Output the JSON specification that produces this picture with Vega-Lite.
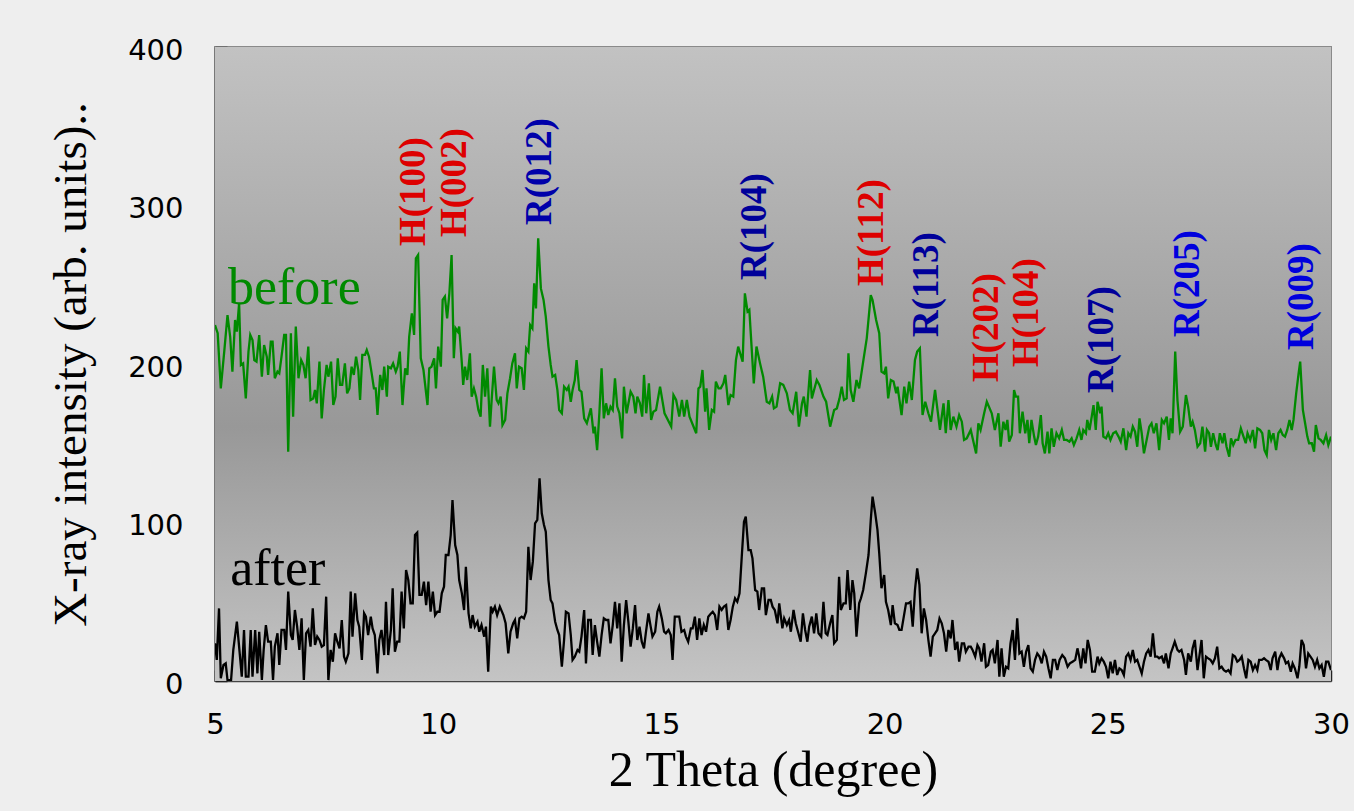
{
"$schema": "https://vega.github.io/schema/vega-lite/v6.json",
"width": 1116, "height": 634,
"autosize": "none",
"padding": {"left": 215, "top": 47, "right": 23, "bottom": 130},
"background": "#eeeeee",
"config": {"view": {"stroke": "#8a8a8a", "strokeWidth": 2}},
"datasets": {
"before": [
{"x":5.00,"y":224.6},{"x":5.06,"y":219.4},{"x":5.13,"y":184.6},{"x":5.21,"y":208.8},{"x":5.28,"y":230.9},{"x":5.34,"y":217.2},{"x":5.39,"y":195.2},{"x":5.45,"y":227.8},{"x":5.49,"y":220.4},{"x":5.54,"y":238.3},{"x":5.58,"y":199.4},{"x":5.63,"y":200.4},{"x":5.69,"y":178.3},{"x":5.75,"y":207.8},{"x":5.79,"y":218.3},{"x":5.84,"y":215.1},{"x":5.88,"y":202.5},{"x":5.93,"y":201.5},{"x":5.99,"y":218.3},{"x":6.05,"y":192.0},{"x":6.10,"y":212.0},{"x":6.16,"y":204.6},{"x":6.19,"y":193.1},{"x":6.25,"y":214.1},{"x":6.29,"y":214.1},{"x":6.34,"y":191.0},{"x":6.40,"y":195.2},{"x":6.44,"y":194.1},{"x":6.49,"y":204.6},{"x":6.55,"y":218.3},{"x":6.59,"y":218.3},{"x":6.64,"y":144.7},{"x":6.70,"y":219.4},{"x":6.75,"y":166.8},{"x":6.81,"y":223.6},{"x":6.87,"y":191.0},{"x":6.93,"y":202.5},{"x":6.98,"y":199.4},{"x":7.03,"y":191.0},{"x":7.09,"y":211.0},{"x":7.14,"y":177.3},{"x":7.20,"y":178.3},{"x":7.24,"y":183.6},{"x":7.28,"y":175.2},{"x":7.34,"y":201.5},{"x":7.39,"y":165.7},{"x":7.44,"y":183.6},{"x":7.50,"y":199.4},{"x":7.54,"y":192.0},{"x":7.60,"y":201.5},{"x":7.65,"y":174.1},{"x":7.70,"y":179.4},{"x":7.75,"y":203.6},{"x":7.80,"y":186.8},{"x":7.85,"y":186.8},{"x":7.91,"y":200.4},{"x":7.96,"y":181.5},{"x":8.01,"y":184.6},{"x":8.06,"y":198.3},{"x":8.11,"y":193.1},{"x":8.16,"y":204.6},{"x":8.21,"y":196.2},{"x":8.25,"y":177.3},{"x":8.30,"y":205.7},{"x":8.36,"y":205.7},{"x":8.40,"y":208.8},{"x":8.45,"y":204.6},{"x":8.51,"y":194.1},{"x":8.56,"y":184.6},{"x":8.60,"y":184.6},{"x":8.64,"y":167.8},{"x":8.70,"y":193.1},{"x":8.75,"y":183.6},{"x":8.79,"y":198.3},{"x":8.85,"y":179.4},{"x":8.88,"y":198.3},{"x":8.94,"y":197.3},{"x":8.99,"y":200.4},{"x":9.05,"y":195.2},{"x":9.09,"y":198.3},{"x":9.14,"y":207.8},{"x":9.20,"y":174.1},{"x":9.26,"y":197.3},{"x":9.31,"y":193.1},{"x":9.35,"y":217.2},{"x":9.41,"y":231.9},{"x":9.46,"y":218.3},{"x":9.50,"y":266.7},{"x":9.55,"y":268.8},{"x":9.61,"y":203.6},{"x":9.67,"y":196.2},{"x":9.76,"y":174.1},{"x":9.80,"y":197.3},{"x":9.85,"y":198.3},{"x":9.91,"y":203.6},{"x":9.95,"y":184.6},{"x":10.00,"y":211.0},{"x":10.06,"y":198.3},{"x":10.10,"y":240.4},{"x":10.15,"y":242.5},{"x":10.20,"y":228.8},{"x":10.25,"y":244.6},{"x":10.30,"y":268.8},{"x":10.35,"y":203.6},{"x":10.39,"y":222.5},{"x":10.44,"y":220.4},{"x":10.47,"y":223.6},{"x":10.53,"y":200.4},{"x":10.56,"y":186.8},{"x":10.60,"y":198.3},{"x":10.65,"y":189.9},{"x":10.71,"y":206.7},{"x":10.75,"y":179.4},{"x":10.80,"y":184.6},{"x":10.85,"y":179.4},{"x":10.90,"y":171.0},{"x":10.95,"y":166.8},{"x":11.00,"y":199.4},{"x":11.05,"y":179.4},{"x":11.10,"y":197.3},{"x":11.16,"y":160.5},{"x":11.20,"y":178.3},{"x":11.25,"y":198.3},{"x":11.31,"y":177.3},{"x":11.35,"y":175.2},{"x":11.40,"y":179.4},{"x":11.44,"y":161.5},{"x":11.50,"y":164.7},{"x":11.55,"y":181.5},{"x":11.61,"y":191.0},{"x":11.66,"y":200.4},{"x":11.72,"y":206.7},{"x":11.76,"y":184.6},{"x":11.81,"y":198.3},{"x":11.87,"y":197.3},{"x":11.92,"y":183.6},{"x":11.97,"y":209.9},{"x":12.02,"y":207.8},{"x":12.06,"y":224.6},{"x":12.11,"y":222.5},{"x":12.15,"y":250.9},{"x":12.19,"y":235.1},{"x":12.24,"y":279.3},{"x":12.30,"y":247.7},{"x":12.36,"y":240.4},{"x":12.41,"y":229.9},{"x":12.47,"y":211.0},{"x":12.52,"y":199.4},{"x":12.56,"y":192.0},{"x":12.62,"y":193.1},{"x":12.67,"y":183.6},{"x":12.71,"y":171.0},{"x":12.77,"y":168.9},{"x":12.82,"y":185.7},{"x":12.88,"y":183.6},{"x":12.92,"y":185.7},{"x":12.97,"y":176.2},{"x":13.01,"y":183.6},{"x":13.06,"y":189.9},{"x":13.10,"y":202.5},{"x":13.16,"y":183.6},{"x":13.21,"y":182.5},{"x":13.27,"y":165.7},{"x":13.33,"y":162.6},{"x":13.38,"y":167.8},{"x":13.42,"y":172.0},{"x":13.48,"y":156.3},{"x":13.51,"y":160.5},{"x":13.56,"y":145.7},{"x":13.61,"y":168.9},{"x":13.66,"y":197.3},{"x":13.71,"y":165.7},{"x":13.76,"y":175.2},{"x":13.81,"y":167.8},{"x":13.86,"y":173.1},{"x":13.91,"y":171.0},{"x":13.96,"y":191.0},
{"x":14.01,"y":173.1},{"x":14.06,"y":168.9},{"x":14.12,"y":153.1},{"x":14.16,"y":185.7},{"x":14.22,"y":168.9},{"x":14.31,"y":182.5},{"x":14.37,"y":179.4},{"x":14.42,"y":168.9},{"x":14.46,"y":179.4},{"x":14.52,"y":175.2},{"x":14.57,"y":166.8},{"x":14.61,"y":193.1},{"x":14.66,"y":168.9},{"x":14.72,"y":187.8},{"x":14.77,"y":164.7},{"x":14.82,"y":169.9},{"x":14.88,"y":171.0},{"x":14.97,"y":185.7},{"x":15.07,"y":168.9},{"x":15.22,"y":160.5},{"x":15.27,"y":180.4},{"x":15.33,"y":177.3},{"x":15.40,"y":166.8},{"x":15.46,"y":177.3},{"x":15.51,"y":166.8},{"x":15.57,"y":177.3},{"x":15.63,"y":166.8},{"x":15.78,"y":156.3},{"x":15.83,"y":184.6},{"x":15.87,"y":185.7},{"x":15.92,"y":196.2},{"x":15.98,"y":169.9},{"x":16.01,"y":184.6},{"x":16.07,"y":158.4},{"x":16.13,"y":171.0},{"x":16.18,"y":169.9},{"x":16.22,"y":188.9},{"x":16.28,"y":184.6},{"x":16.33,"y":184.6},{"x":16.39,"y":187.8},{"x":16.43,"y":193.1},{"x":16.50,"y":174.1},{"x":16.55,"y":180.4},{"x":16.61,"y":179.4},{"x":16.67,"y":202.5},{"x":16.72,"y":211.0},{"x":16.82,"y":201.5},{"x":16.87,"y":244.6},{"x":16.93,"y":233.0},{"x":16.97,"y":234.1},{"x":17.07,"y":187.8},{"x":17.13,"y":211.0},{"x":17.21,"y":200.4},{"x":17.28,"y":192.0},{"x":17.36,"y":176.2},{"x":17.42,"y":175.2},{"x":17.48,"y":179.4},{"x":17.52,"y":172.0},{"x":17.58,"y":173.1},{"x":17.66,"y":187.8},{"x":17.73,"y":186.8},{"x":17.81,"y":181.5},{"x":17.88,"y":171.0},{"x":17.94,"y":168.9},{"x":18.02,"y":182.5},{"x":18.08,"y":160.5},{"x":18.15,"y":175.2},{"x":18.19,"y":179.4},{"x":18.25,"y":166.8},{"x":18.33,"y":196.2},{"x":18.37,"y":178.3},{"x":18.48,"y":189.9},{"x":18.54,"y":186.8},{"x":18.63,"y":179.4},{"x":18.69,"y":176.2},{"x":18.78,"y":160.5},{"x":18.87,"y":171.0},{"x":18.93,"y":172.0},{"x":18.99,"y":178.3},{"x":19.04,"y":185.7},{"x":19.09,"y":177.3},{"x":19.15,"y":178.3},{"x":19.19,"y":206.7},{"x":19.24,"y":183.6},{"x":19.30,"y":176.2},{"x":19.37,"y":189.9},{"x":19.43,"y":184.6},{"x":19.52,"y":201.5},{"x":19.60,"y":216.2},{"x":19.69,"y":243.5},{"x":19.73,"y":240.4},{"x":19.81,"y":227.8},{"x":19.88,"y":219.4},{"x":19.93,"y":195.2},{"x":19.99,"y":194.1},{"x":20.03,"y":198.3},{"x":20.08,"y":178.3},{"x":20.14,"y":189.9},{"x":20.20,"y":188.9},{"x":20.26,"y":181.5},{"x":20.29,"y":185.7},{"x":20.38,"y":167.8},{"x":20.44,"y":185.7},{"x":20.49,"y":175.2},{"x":20.55,"y":188.9},{"x":20.61,"y":177.3},{"x":20.68,"y":202.5},{"x":20.73,"y":207.8},{"x":20.79,"y":209.9},{"x":20.85,"y":167.8},{"x":20.91,"y":176.2},{"x":20.98,"y":168.9},{"x":21.04,"y":163.6},{"x":21.13,"y":183.6},{"x":21.24,"y":158.4},{"x":21.32,"y":175.2},{"x":21.37,"y":156.3},{"x":21.43,"y":177.3},{"x":21.48,"y":158.4},{"x":21.54,"y":166.8},{"x":21.61,"y":160.5},{"x":21.67,"y":167.8},{"x":21.73,"y":163.6},{"x":21.78,"y":152.1},{"x":21.84,"y":153.1},{"x":21.93,"y":158.4},{"x":22.05,"y":143.6},{"x":22.10,"y":162.6},{"x":22.15,"y":158.4},{"x":22.23,"y":168.9},{"x":22.29,"y":176.2},{"x":22.40,"y":168.9},{"x":22.47,"y":158.4},{"x":22.55,"y":168.9},{"x":22.60,"y":147.8},
{"x":22.66,"y":163.6},{"x":22.71,"y":158.4},{"x":22.75,"y":164.7},{"x":22.79,"y":151.0},{"x":22.85,"y":155.2},{"x":22.90,"y":183.6},{"x":22.94,"y":179.4},{"x":22.99,"y":179.4},{"x":23.03,"y":156.3},{"x":23.09,"y":169.9},{"x":23.15,"y":156.3},{"x":23.20,"y":164.7},{"x":23.24,"y":150.0},{"x":23.29,"y":164.7},{"x":23.35,"y":154.2},{"x":23.39,"y":148.9},{"x":23.44,"y":154.2},{"x":23.50,"y":167.8},{"x":23.54,"y":150.0},{"x":23.59,"y":143.6},{"x":23.65,"y":157.3},{"x":23.69,"y":143.6},{"x":23.74,"y":159.4},{"x":23.79,"y":147.8},{"x":23.85,"y":156.3},{"x":23.91,"y":153.1},{"x":23.97,"y":158.4},{"x":24.02,"y":152.1},{"x":24.08,"y":152.1},{"x":24.14,"y":151.0},{"x":24.19,"y":153.1},{"x":24.24,"y":148.9},{"x":24.30,"y":153.1},{"x":24.36,"y":158.4},{"x":24.41,"y":152.1},{"x":24.45,"y":158.4},{"x":24.51,"y":156.3},{"x":24.54,"y":164.7},{"x":24.59,"y":158.4},{"x":24.64,"y":166.8},{"x":24.68,"y":174.1},{"x":24.73,"y":158.4},{"x":24.77,"y":176.2},{"x":24.83,"y":168.9},{"x":24.86,"y":173.1},{"x":24.90,"y":154.2},{"x":24.96,"y":153.1},{"x":25.01,"y":156.3},{"x":25.06,"y":152.1},{"x":25.12,"y":156.3},{"x":25.18,"y":157.3},{"x":25.24,"y":154.2},{"x":25.29,"y":151.0},{"x":25.35,"y":159.4},{"x":25.41,"y":145.7},{"x":25.46,"y":156.3},{"x":25.51,"y":154.2},{"x":25.56,"y":160.5},{"x":25.61,"y":157.3},{"x":25.66,"y":147.8},{"x":25.71,"y":165.7},{"x":25.76,"y":156.3},{"x":25.81,"y":143.6},{"x":25.87,"y":152.1},{"x":25.93,"y":160.5},{"x":25.98,"y":162.6},{"x":26.03,"y":156.3},{"x":26.09,"y":162.6},{"x":26.15,"y":145.7},{"x":26.21,"y":164.7},{"x":26.26,"y":162.6},{"x":26.32,"y":166.8},{"x":26.37,"y":152.1},{"x":26.41,"y":165.7},{"x":26.45,"y":156.3},{"x":26.51,"y":207.8},{"x":26.56,"y":177.3},{"x":26.62,"y":157.3},{"x":26.68,"y":160.5},{"x":26.75,"y":180.4},{"x":26.80,"y":173.1},{"x":26.86,"y":160.5},{"x":26.90,"y":163.6},{"x":26.95,"y":158.4},{"x":27.01,"y":147.8},{"x":27.07,"y":150.0},{"x":27.12,"y":160.5},{"x":27.18,"y":144.7},{"x":27.22,"y":158.4},{"x":27.27,"y":156.3},{"x":27.31,"y":147.8},{"x":27.36,"y":156.3},{"x":27.42,"y":148.9},{"x":27.46,"y":145.7},{"x":27.51,"y":156.3},{"x":27.57,"y":150.0},{"x":27.61,"y":156.3},{"x":27.66,"y":147.8},{"x":27.72,"y":141.5},{"x":27.76,"y":153.1},{"x":27.81,"y":148.9},{"x":27.86,"y":152.1},{"x":27.92,"y":152.1},{"x":27.98,"y":159.4},{"x":28.04,"y":154.2},{"x":28.09,"y":150.0},{"x":28.13,"y":156.3},{"x":28.19,"y":152.1},{"x":28.25,"y":158.4},{"x":28.30,"y":146.8},{"x":28.35,"y":159.4},{"x":28.41,"y":158.4},{"x":28.46,"y":156.3},{"x":28.51,"y":145.7},{"x":28.56,"y":142.6},{"x":28.61,"y":158.4},{"x":28.66,"y":152.1},{"x":28.71,"y":156.3},{"x":28.77,"y":145.7},{"x":28.82,"y":156.3},{"x":28.87,"y":158.4},{"x":28.92,"y":155.2},{"x":28.97,"y":154.2},{"x":29.02,"y":158.4},{"x":29.07,"y":164.7},{"x":29.12,"y":158.4},{"x":29.16,"y":164.7},{"x":29.22,"y":181.5},{"x":29.27,"y":193.1},{"x":29.31,"y":201.5},{"x":29.37,"y":171.0},{"x":29.42,"y":162.6},{"x":29.47,"y":154.2},{"x":29.51,"y":150.0},{"x":29.57,"y":150.0},{"x":29.62,"y":144.7},{"x":29.66,"y":161.5},{"x":29.72,"y":153.1},{"x":29.77,"y":152.1},{"x":29.83,"y":150.0},{"x":29.89,"y":155.2},{"x":29.94,"y":148.9},{"x":30.00,"y":154.2}
],
"after": [
{"x":5.00,"y":23.8},{"x":5.04,"y":13.3},{"x":5.09,"y":45.8},{"x":5.13,"y":1.7},{"x":5.19,"y":10.1},{"x":5.24,"y":11.1},{"x":5.28,"y":0.6},{"x":5.36,"y":0.6},{"x":5.41,"y":19.6},{"x":5.49,"y":37.4},{"x":5.54,"y":21.7},{"x":5.60,"y":2.7},{"x":5.65,"y":32.2},{"x":5.69,"y":2.7},{"x":5.75,"y":2.7},{"x":5.80,"y":32.2},{"x":5.84,"y":2.7},{"x":5.90,"y":32.2},{"x":5.95,"y":4.8},{"x":5.99,"y":31.1},{"x":6.05,"y":0.6},{"x":6.09,"y":19.6},{"x":6.14,"y":35.3},{"x":6.19,"y":24.8},{"x":6.25,"y":24.8},{"x":6.30,"y":0.6},{"x":6.34,"y":21.7},{"x":6.40,"y":30.1},{"x":6.44,"y":10.1},{"x":6.49,"y":32.2},{"x":6.55,"y":32.2},{"x":6.59,"y":19.6},{"x":6.64,"y":56.4},{"x":6.70,"y":29.0},{"x":6.74,"y":25.9},{"x":6.79,"y":44.8},{"x":6.84,"y":34.3},{"x":6.89,"y":19.6},{"x":6.94,"y":39.5},{"x":6.99,"y":0.6},{"x":7.04,"y":30.1},{"x":7.09,"y":32.2},{"x":7.14,"y":21.7},{"x":7.19,"y":45.8},{"x":7.24,"y":22.7},{"x":7.29,"y":28.0},{"x":7.34,"y":25.9},{"x":7.39,"y":21.7},{"x":7.44,"y":22.7},{"x":7.49,"y":53.2},{"x":7.54,"y":0.6},{"x":7.59,"y":19.6},{"x":7.64,"y":12.2},{"x":7.69,"y":30.1},{"x":7.74,"y":24.8},{"x":7.79,"y":20.6},{"x":7.84,"y":38.5},{"x":7.89,"y":15.4},{"x":7.93,"y":12.2},{"x":7.99,"y":17.4},{"x":8.04,"y":56.4},{"x":8.08,"y":28.0},{"x":8.14,"y":55.3},{"x":8.19,"y":38.5},{"x":8.23,"y":34.3},{"x":8.29,"y":13.3},{"x":8.34,"y":42.7},{"x":8.38,"y":40.6},{"x":8.43,"y":29.0},{"x":8.49,"y":40.6},{"x":8.53,"y":33.2},{"x":8.58,"y":29.0},{"x":8.64,"y":4.8},{"x":8.68,"y":25.9},{"x":8.73,"y":32.2},{"x":8.79,"y":16.4},{"x":8.83,"y":50.0},{"x":8.88,"y":16.4},{"x":8.94,"y":32.2},{"x":8.98,"y":58.5},{"x":9.03,"y":18.5},{"x":9.08,"y":24.8},{"x":9.13,"y":24.8},{"x":9.18,"y":56.4},{"x":9.23,"y":33.2},{"x":9.28,"y":70.0},{"x":9.33,"y":63.7},{"x":9.38,"y":49.0},{"x":9.43,"y":49.0},{"x":9.48,"y":92.1},{"x":9.53,"y":93.6},{"x":9.58,"y":54.3},{"x":9.63,"y":54.3},{"x":9.68,"y":62.7},{"x":9.73,"y":47.9},{"x":9.78,"y":62.7},{"x":9.83,"y":43.7},{"x":9.88,"y":56.4},{"x":9.93,"y":41.6},{"x":9.98,"y":43.7},{"x":10.03,"y":43.7},{"x":10.08,"y":55.3},{"x":10.13,"y":59.5},{"x":10.17,"y":79.5},{"x":10.23,"y":79.5},{"x":10.28,"y":92.1},{"x":10.32,"y":114.2},{"x":10.38,"y":85.8},{"x":10.43,"y":79.5},{"x":10.47,"y":63.7},{"x":10.53,"y":55.3},{"x":10.58,"y":44.8},{"x":10.62,"y":72.1},{"x":10.68,"y":42.7},{"x":10.73,"y":33.2},{"x":10.77,"y":41.6},{"x":10.82,"y":34.3},{"x":10.88,"y":37.4},{"x":10.92,"y":31.1},{"x":10.97,"y":35.3},{"x":11.03,"y":28.0},{"x":11.07,"y":34.3},{"x":11.12,"y":5.9},{"x":11.18,"y":46.9},{"x":11.22,"y":43.7},{"x":11.27,"y":46.9},{"x":11.32,"y":41.6},{"x":11.38,"y":46.9},
{"x":11.46,"y":41.6},{"x":11.51,"y":36.4},{"x":11.57,"y":17.4},{"x":11.62,"y":31.1},{"x":11.68,"y":36.4},{"x":11.72,"y":38.5},{"x":11.77,"y":26.9},{"x":11.82,"y":39.5},{"x":11.87,"y":40.6},{"x":11.92,"y":39.5},{"x":11.97,"y":43.7},{"x":12.02,"y":84.7},{"x":12.07,"y":63.7},{"x":12.12,"y":75.3},{"x":12.17,"y":99.5},{"x":12.22,"y":101.6},{"x":12.27,"y":127.9},{"x":12.32,"y":105.8},{"x":12.37,"y":98.4},{"x":12.41,"y":94.2},{"x":12.47,"y":63.7},{"x":12.52,"y":51.1},{"x":12.56,"y":49.0},{"x":12.62,"y":37.4},{"x":12.67,"y":32.2},{"x":12.71,"y":29.0},{"x":12.77,"y":9.0},{"x":12.82,"y":25.9},{"x":12.86,"y":43.7},{"x":12.92,"y":42.7},{"x":12.97,"y":29.0},{"x":13.01,"y":13.3},{"x":13.06,"y":15.4},{"x":13.12,"y":19.6},{"x":13.16,"y":18.5},{"x":13.21,"y":28.0},{"x":13.27,"y":44.8},{"x":13.31,"y":11.1},{"x":13.36,"y":38.5},{"x":13.42,"y":38.5},{"x":13.46,"y":16.4},{"x":13.51,"y":35.3},{"x":13.56,"y":24.8},{"x":13.61,"y":15.4},{"x":13.66,"y":29.0},{"x":13.71,"y":39.5},{"x":13.76,"y":38.5},{"x":13.81,"y":38.5},{"x":13.86,"y":23.8},{"x":13.91,"y":35.3},{"x":13.96,"y":50.0},{"x":14.01,"y":33.2},{"x":14.06,"y":49.0},{"x":14.11,"y":12.2},{"x":14.16,"y":35.3},{"x":14.21,"y":51.1},{"x":14.26,"y":37.4},{"x":14.31,"y":21.7},{"x":14.36,"y":33.2},{"x":14.41,"y":47.9},{"x":14.46,"y":25.9},{"x":14.51,"y":34.3},{"x":14.56,"y":24.8},{"x":14.61,"y":20.6},{"x":14.65,"y":30.1},{"x":14.71,"y":42.7},{"x":14.76,"y":34.3},{"x":14.80,"y":28.0},{"x":14.86,"y":31.1},{"x":14.91,"y":43.7},{"x":14.95,"y":46.9},{"x":15.01,"y":39.5},{"x":15.06,"y":31.1},{"x":15.10,"y":30.1},{"x":15.16,"y":32.2},{"x":15.21,"y":29.0},{"x":15.25,"y":13.3},{"x":15.30,"y":40.6},{"x":15.36,"y":40.6},{"x":15.40,"y":40.6},{"x":15.45,"y":31.1},{"x":15.51,"y":32.2},{"x":15.55,"y":28.0},{"x":15.60,"y":24.8},{"x":15.66,"y":33.2},{"x":15.70,"y":33.2},{"x":15.75,"y":40.6},{"x":15.80,"y":25.9},{"x":15.85,"y":39.5},{"x":15.90,"y":29.0},{"x":15.95,"y":35.3},{"x":16.00,"y":31.1},{"x":16.05,"y":40.6},{"x":16.10,"y":42.3},{"x":16.15,"y":43.7},{"x":16.20,"y":41.6},{"x":16.25,"y":32.2},{"x":16.30,"y":46.9},{"x":16.35,"y":44.8},{"x":16.40,"y":46.9},{"x":16.45,"y":47.9},{"x":16.50,"y":32.2},{"x":16.55,"y":38.5},{"x":16.60,"y":46.9},{"x":16.65,"y":52.2},{"x":16.70,"y":50.0},{"x":16.75,"y":55.3},{"x":16.80,"y":78.4},{"x":16.85,"y":100.5},{"x":16.89,"y":103.7},{"x":16.95,"y":82.6},{"x":17.00,"y":82.6},{"x":17.04,"y":77.4},{"x":17.10,"y":57.4},{"x":17.15,"y":56.4},{"x":17.19,"y":44.8},{"x":17.25,"y":58.5},{"x":17.30,"y":58.5},{"x":17.34,"y":41.6},{"x":17.40,"y":51.1},{"x":17.45,"y":51.1},{"x":17.49,"y":46.9},{"x":17.54,"y":44.8},{"x":17.60,"y":36.4},{"x":17.64,"y":49.0},
{"x":17.71,"y":33.2},{"x":17.75,"y":39.5},{"x":17.81,"y":35.3},{"x":17.86,"y":38.5},{"x":17.90,"y":31.1},{"x":17.96,"y":44.8},{"x":18.01,"y":36.4},{"x":18.07,"y":30.1},{"x":18.12,"y":24.8},{"x":18.17,"y":42.7},{"x":18.22,"y":32.2},{"x":18.27,"y":24.8},{"x":18.31,"y":34.3},{"x":18.37,"y":40.6},{"x":18.42,"y":30.1},{"x":18.47,"y":42.7},{"x":18.52,"y":30.1},{"x":18.58,"y":28.0},{"x":18.63,"y":50.0},{"x":18.68,"y":30.1},{"x":18.72,"y":29.0},{"x":18.78,"y":36.4},{"x":18.83,"y":41.6},{"x":18.87,"y":23.8},{"x":18.93,"y":25.9},{"x":18.98,"y":65.8},{"x":19.02,"y":44.8},{"x":19.08,"y":49.0},{"x":19.13,"y":49.0},{"x":19.17,"y":70.0},{"x":19.23,"y":44.8},{"x":19.28,"y":63.7},{"x":19.32,"y":55.3},{"x":19.37,"y":28.0},{"x":19.43,"y":49.0},{"x":19.47,"y":52.2},{"x":19.52,"y":57.4},{"x":19.58,"y":67.9},{"x":19.64,"y":79.5},{"x":19.69,"y":101.6},{"x":19.73,"y":116.3},{"x":19.79,"y":105.8},{"x":19.84,"y":95.3},{"x":19.88,"y":80.5},{"x":19.93,"y":58.5},{"x":19.99,"y":66.9},{"x":20.03,"y":50.0},{"x":20.08,"y":44.8},{"x":20.14,"y":35.3},{"x":20.18,"y":47.9},{"x":20.23,"y":36.4},{"x":20.29,"y":35.3},{"x":20.33,"y":32.2},{"x":20.38,"y":32.2},{"x":20.43,"y":40.6},{"x":20.48,"y":49.0},{"x":20.53,"y":49.0},{"x":20.58,"y":50.0},{"x":20.63,"y":34.3},{"x":20.68,"y":57.4},{"x":20.73,"y":71.1},{"x":20.78,"y":60.6},{"x":20.83,"y":30.1},{"x":20.88,"y":45.8},{"x":20.93,"y":38.5},{"x":20.98,"y":25.9},{"x":21.03,"y":15.4},{"x":21.08,"y":28.0},{"x":21.13,"y":30.1},{"x":21.18,"y":32.2},{"x":21.23,"y":39.5},{"x":21.28,"y":36.4},{"x":21.33,"y":30.1},{"x":21.38,"y":18.5},{"x":21.43,"y":32.2},{"x":21.48,"y":26.9},{"x":21.52,"y":38.5},{"x":21.58,"y":19.6},{"x":21.63,"y":24.8},{"x":21.67,"y":12.2},{"x":21.73,"y":23.8},{"x":21.78,"y":23.8},{"x":21.82,"y":18.5},{"x":21.88,"y":21.7},{"x":21.93,"y":21.7},{"x":21.97,"y":19.6},{"x":22.03,"y":15.4},{"x":22.08,"y":22.7},{"x":22.12,"y":20.6},{"x":22.17,"y":12.2},{"x":22.23,"y":23.8},{"x":22.27,"y":9.0},{"x":22.32,"y":10.1},{"x":22.38,"y":18.5},{"x":22.42,"y":19.6},{"x":22.47,"y":11.1},{"x":22.53,"y":25.9},{"x":22.57,"y":2.7},{"x":22.62,"y":20.6},{"x":22.67,"y":2.7},{"x":22.72,"y":9.0},{"x":22.77,"y":8.0},{"x":22.82,"y":23.8},{"x":22.87,"y":32.2},{"x":22.92,"y":13.3},{"x":22.97,"y":39.5},{"x":23.02,"y":17.4},{"x":23.07,"y":18.5},{"x":23.12,"y":9.0},{"x":23.17,"y":18.5},{"x":23.22,"y":22.7},{"x":23.27,"y":8.0},{"x":23.32,"y":5.9},{"x":23.37,"y":13.3},{"x":23.42,"y":17.4},{"x":23.47,"y":15.4},{"x":23.52,"y":11.1},{"x":23.57,"y":18.5},{"x":23.62,"y":15.4},{"x":23.67,"y":8.0},{"x":23.72,"y":1.7},{"x":23.77,"y":13.3},{"x":23.82,"y":13.3},{"x":23.87,"y":6.9},{"x":23.92,"y":13.3},
{"x":23.98,"y":16.4},{"x":24.04,"y":14.3},{"x":24.10,"y":9.0},{"x":24.15,"y":11.1},{"x":24.21,"y":12.2},{"x":24.27,"y":13.3},{"x":24.32,"y":20.6},{"x":24.36,"y":15.4},{"x":24.40,"y":8.0},{"x":24.45,"y":20.6},{"x":24.50,"y":11.1},{"x":24.55,"y":25.9},{"x":24.60,"y":19.6},{"x":24.65,"y":5.9},{"x":24.71,"y":5.9},{"x":24.77,"y":15.4},{"x":24.81,"y":11.1},{"x":24.86,"y":14.3},{"x":24.91,"y":12.2},{"x":24.96,"y":9.0},{"x":25.01,"y":1.7},{"x":25.06,"y":12.2},{"x":25.11,"y":4.8},{"x":25.16,"y":13.3},{"x":25.21,"y":3.8},{"x":25.26,"y":8.0},{"x":25.31,"y":6.9},{"x":25.36,"y":3.8},{"x":25.41,"y":15.4},{"x":25.46,"y":17.4},{"x":25.51,"y":13.3},{"x":25.56,"y":19.6},{"x":25.61,"y":12.2},{"x":25.66,"y":13.3},{"x":25.71,"y":9.0},{"x":25.76,"y":4.8},{"x":25.81,"y":12.2},{"x":25.86,"y":17.4},{"x":25.91,"y":19.6},{"x":25.96,"y":15.4},{"x":26.01,"y":30.1},{"x":26.06,"y":15.4},{"x":26.11,"y":15.4},{"x":26.15,"y":14.3},{"x":26.21,"y":15.4},{"x":26.26,"y":11.1},{"x":26.30,"y":17.4},{"x":26.36,"y":8.0},{"x":26.41,"y":17.4},{"x":26.45,"y":20.6},{"x":26.50,"y":24.8},{"x":26.56,"y":19.6},{"x":26.60,"y":18.5},{"x":26.65,"y":19.6},{"x":26.71,"y":13.3},{"x":26.75,"y":3.8},{"x":26.80,"y":17.4},{"x":26.86,"y":12.2},{"x":26.90,"y":20.6},{"x":26.95,"y":25.9},{"x":27.01,"y":6.9},{"x":27.05,"y":15.4},{"x":27.10,"y":25.9},{"x":27.15,"y":1.7},{"x":27.20,"y":15.4},{"x":27.25,"y":14.3},{"x":27.30,"y":13.3},{"x":27.35,"y":11.1},{"x":27.40,"y":14.3},{"x":27.45,"y":21.7},{"x":27.50,"y":8.0},{"x":27.55,"y":9.0},{"x":27.60,"y":6.9},{"x":27.65,"y":5.9},{"x":27.70,"y":6.9},{"x":27.75,"y":4.8},{"x":27.80,"y":16.4},{"x":27.85,"y":15.4},{"x":27.90,"y":12.2},{"x":27.95,"y":13.3},{"x":28.00,"y":15.4},{"x":28.05,"y":8.0},{"x":28.10,"y":1.7},{"x":28.15,"y":13.3},{"x":28.20,"y":12.2},{"x":28.25,"y":6.9},{"x":28.30,"y":10.1},{"x":28.35,"y":6.9},{"x":28.39,"y":13.3},{"x":28.45,"y":13.3},{"x":28.50,"y":14.3},{"x":28.54,"y":13.3},{"x":28.60,"y":12.2},{"x":28.65,"y":6.9},{"x":28.69,"y":14.3},{"x":28.75,"y":18.5},{"x":28.80,"y":6.9},{"x":28.84,"y":14.3},{"x":28.89,"y":17.4},{"x":28.95,"y":14.3},{"x":28.99,"y":11.1},{"x":29.04,"y":12.2},{"x":29.10,"y":5.9},{"x":29.14,"y":11.1},{"x":29.19,"y":8.0},{"x":29.25,"y":1.7},{"x":29.29,"y":9.0},{"x":29.34,"y":25.9},{"x":29.39,"y":22.7},{"x":29.44,"y":8.0},{"x":29.49,"y":17.4},{"x":29.54,"y":15.4},{"x":29.59,"y":13.3},{"x":29.64,"y":9.0},{"x":29.69,"y":13.3},{"x":29.74,"y":8.0},{"x":29.79,"y":10.1},{"x":29.84,"y":2.7},{"x":29.89,"y":12.2},{"x":29.94,"y":12.2},{"x":30.00,"y":6.9}
],
"peaks": [
{"label":"H(100)","x":9.46,"y":274.4},{"label":"H(002)","x":10.38,"y":280.1},{"label":"R(012)","x":12.28,"y":287.7},{"label":"R(104)","x":17.10,"y":253.0},{"label":"H(112)","x":19.72,"y":249.2},{"label":"R(113)","x":20.95,"y":217.0},{"label":"H(202)","x":22.29,"y":188.6},{"label":"H(104)","x":23.19,"y":198.1},{"label":"R(107)","x":24.87,"y":181.7},{"label":"R(205)","x":26.80,"y":217.0},{"label":"R(009)","x":29.35,"y":208.8}
]
},
"layer": [
{"data": {"values": [{}]}, "mark": {"type": "rect", "fill": {"gradient": "linear", "x1": 0, "y1": 0, "x2": 0, "y2": 1, "stops": [{"offset": 0, "color": "#c2c2c2"}, {"offset": 0.6, "color": "#989898"}, {"offset": 1, "color": "#c4c4c4"}]}}, "encoding": {}},
{"data": {"name": "before"}, "mark": {"type": "line", "color": "#008a00", "strokeWidth": 2.3, "clip": true},
 "encoding": {
  "x": {"field": "x", "type": "quantitative", "scale": {"domain": [5, 30], "nice": false},
   "axis": {"values": [5, 10, 15, 20, 25, 30], "title": "2 Theta (degree)", "grid": false, "tickSize": -11, "tickColor": "#222222", "tickWidth": 1.5, "domainColor": "#444444", "domainWidth": 1.5, "labelFont": "DejaVu Sans", "labelFontSize": 29, "labelColor": "#000000", "labelPadding": 40, "labelFlush": false, "titleFont": "Liberation Serif", "titleFontSize": 50, "titleFontWeight": "normal", "titleColor": "#000000", "titleY": 104, "titleBaseline": "alphabetic"}},
  "y": {"field": "y", "type": "quantitative", "scale": {"domain": [0, 400], "nice": false},
   "axis": {"values": [0, 100, 200, 300, 400], "title": "X-ray intensity (arb. units)..", "grid": false, "tickSize": -12, "tickColor": "#222222", "tickWidth": 1.5, "domainColor": "#444444", "domainWidth": 1.5, "labelFont": "DejaVu Sans", "labelFontSize": 29, "labelColor": "#000000", "labelPadding": 44, "labelOffset": 3, "titleFont": "Liberation Serif", "titleFontSize": 47, "titleFontWeight": "normal", "titleColor": "#000000", "titleX": -130, "titleY": 317, "titleAngle": 270, "titleAlign": "center", "titleBaseline": "alphabetic"}}
 }},
{"data": {"name": "after"}, "mark": {"type": "line", "color": "#000000", "strokeWidth": 2.3, "clip": true},
 "encoding": {"x": {"field": "x", "type": "quantitative"}, "y": {"field": "y", "type": "quantitative"}}},
{"data": {"name": "peaks"}, "mark": {"type": "text", "angle": 270, "align": "left", "baseline": "middle", "font": "Liberation Serif", "fontWeight": "bold", "fontSize": 37},
 "encoding": {"x": {"field": "x", "type": "quantitative"}, "y": {"field": "y", "type": "quantitative"}, "text": {"field": "label"},
  "color": {"field": "label", "type": "nominal", "legend": null, "scale": {"domain": ["H(100)","H(002)","R(012)","R(104)","H(112)","R(113)","H(202)","H(104)","R(107)","R(205)","R(009)"], "range": ["#dd0000","#dd0000","#0000aa","#00009a","#dd0000","#00009a","#dd0000","#dd0000","#00009a","#0000dd","#0000dd"]}}}},
{"data": {"values": [{"label": "before", "x": 5.29, "y": 237.9}]}, "mark": {"type": "text", "align": "left", "baseline": "alphabetic", "font": "Liberation Serif", "fontSize": 52, "color": "#008a00"},
 "encoding": {"x": {"field": "x", "type": "quantitative"}, "y": {"field": "y", "type": "quantitative"}, "text": {"field": "label"}}},
{"data": {"values": [{"label": "after", "x": 5.34, "y": 60.6}]}, "mark": {"type": "text", "align": "left", "baseline": "alphabetic", "font": "Liberation Serif", "fontSize": 52, "color": "#000000"},
 "encoding": {"x": {"field": "x", "type": "quantitative"}, "y": {"field": "y", "type": "quantitative"}, "text": {"field": "label"}}}
]
}
